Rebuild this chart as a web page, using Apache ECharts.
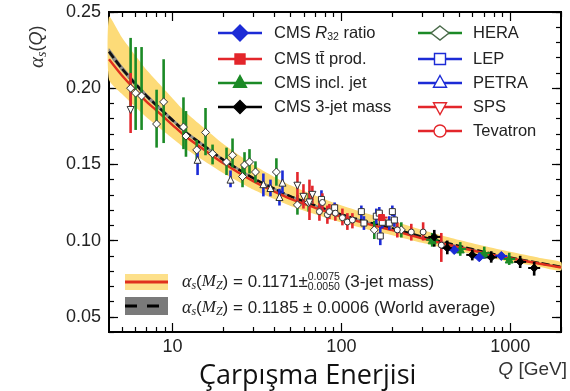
<!DOCTYPE html>
<html><head><meta charset="utf-8">
<script src="https://cdn.jsdelivr.net/npm/echarts@6/dist/echarts.min.js"></script>
<style>html,body{margin:0;padding:0;background:#fff}#c{width:570px;height:391px}</style>
</head><body><div id="c"></div>
<script>
// ---------------- data ----------------
const curveQ   = [4.2,5,6,7,8,10,12,15,20,30,40,50,70,91.19,120,150,200,300,400,500,700,1000,1500,2000];
const worldAvg = [0.224,0.213,0.203,0.195,0.189,0.179,0.171,0.163,0.153,0.141,0.134,0.129,0.123,0.1185,0.1145,0.1115,0.108,0.1025,0.099,0.0964,0.0925,0.0888,0.0852,0.0828];
const worldHigh= [0.2262,0.2150,0.2048,0.1967,0.1905,0.1804,0.1723,0.1642,0.1540,0.1419,0.1348,0.1297,0.1237,0.1191,0.1151,0.1120,0.1085,0.1030,0.0994,0.0968,0.0929,0.0891,0.0855,0.0831];
const worldLow = [0.2219,0.2111,0.2012,0.1934,0.1875,0.1776,0.1698,0.1619,0.1520,0.1402,0.1332,0.1283,0.1224,0.1179,0.1139,0.1110,0.1075,0.1021,0.0986,0.0960,0.0921,0.0885,0.0849,0.0825];
const fit3jet  = [0.219,0.2085,0.1989,0.1912,0.1855,0.1758,0.1681,0.1604,0.1507,0.1390,0.1322,0.1273,0.1215,0.1171,0.1132,0.1103,0.1068,0.1014,0.0980,0.0955,0.0918,0.0884,0.0848,0.0823];
const bandHigh = [0.2469,0.2335,0.2216,0.2121,0.2050,0.1933,0.1840,0.1748,0.1633,0.1497,0.1418,0.1363,0.1296,0.1246,0.1202,0.1169,0.1130,0.1070,0.1032,0.1004,0.0964,0.0926,0.0886,0.0859];
const bandLow  = [0.2056,0.1963,0.1878,0.1809,0.1757,0.1670,0.1601,0.1530,0.1442,0.1335,0.1272,0.1227,0.1172,0.1131,0.1095,0.1067,0.1035,0.0985,0.0952,0.0928,0.0894,0.0861,0.0827,0.0803];

// points: [Q, alpha_s, low, high]
const heraPts = [[5.64,0.200,0.186,0.233],[6.04,0.1968,0.1726,0.227],[6.55,0.1949,0.1726,0.227],[8.04,0.1765,0.161,0.199],[8.85,0.191,0.164,0.219],[11.6,0.1745,0.160,0.194],[12.0,0.1686,0.155,0.185],[13.9,0.1595,0.152,0.166],[15.67,0.171,0.156,0.187],[17.25,0.157,0.150,0.163],[20.87,0.1516,0.143,0.161],[22.65,0.156,0.148,0.167],[25.96,0.142,0.135,0.150],[26.67,0.1496,0.141,0.158],[28.55,0.1516,0.144,0.160],[30.97,0.145,0.138,0.152],[41.2,0.145,0.136,0.154],[54.9,0.1234,0.117,0.130],[64,0.125,0.119,0.131],[156.6,0.107,0.101,0.113],[226.5,0.107,0.102,0.112]];
const petraPts = [[14.06,0.153,0.143,0.160],[22.04,0.140,0.135,0.146],[34.5,0.137,0.129,0.144],[38.0,0.1345,0.129,0.140],[42.96,0.1286,0.123,0.134],[44.77,0.138,0.131,0.146]];
const lepPts = [[76.2,0.127,0.121,0.133],[91.2,0.1215,0.118,0.125],[131.3,0.119,0.114,0.123],[136,0.1115,0.107,0.116],[161,0.116,0.111,0.121],[167.7,0.118,0.114,0.122],[170,0.103,0.097,0.109],[174.8,0.112,0.108,0.117],[192.2,0.1115,0.107,0.116],[200.4,0.119,0.116,0.123],[206,0.1135,0.109,0.118]];
const spsPts = [[5.64,0.1857,0.1706,0.210],[54.9,0.136,0.122,0.145],[59.6,0.1287,0.121,0.137],[64.7,0.125,0.1135,0.140],[67.3,0.130,0.124,0.136]];
const tevatronPts = [[74.1,0.119,0.113,0.125],[77.2,0.125,0.119,0.131],[82.6,0.117,0.111,0.123],[84.9,0.119,0.114,0.124],[92.1,0.118,0.113,0.124],[101.4,0.115,0.110,0.121],[108.5,0.1122,0.107,0.118],[116.2,0.1135,0.108,0.118],[214.4,0.107,0.102,0.112],[259.5,0.1056,0.100,0.111],[305,0.1056,0.100,0.112],[390.8,0.097,0.086,0.105]];
const cmsTtPts = [[173,0.1151,0.111,0.119]];
const cms3jetPts = [[355,0.1024,0.096,0.107],[424,0.0951,0.091,0.100],[596,0.0906,0.087,0.094],[772,0.089,0.0855,0.093],[1146,0.086,0.082,0.090],[1387,0.082,0.077,0.086]];
const cmsR32Pts = [[466,0.0938,0.0915,0.0965],[656,0.0890,0.0870,0.0915],[886,0.0899,0.0880,0.0920]];
const cmsInclPts = [[345,0.1005,0.096,0.105],[506,0.0945,0.090,0.099],[702,0.0918,0.088,0.096],[987,0.0879,0.084,0.092]];

const xTickLabels = [10,100,1000];
const xMinorTicks = [5,6,7,8,9,20,30,40,50,60,70,80,90,200,300,400,500,600,700,800,900,2000];
const yTickLabels = [0.05,0.10,0.15,0.20,0.25];
const yMinorTicks = [0.04,0.05,0.06,0.07,0.08,0.09,0.10,0.11,0.12,0.13,0.14,0.15,0.16,0.17,0.18,0.19,0.20,0.21,0.22,0.23,0.24,0.25];

// ---------------- styling ----------------
const FONT = '"Liberation Sans", Arial, sans-serif';
const SERIF = '"Liberation Serif", "DejaVu Serif", serif';
const GREEN = '#1b8a26', BLUE = '#1c2bd6', RED = '#e3262b', BLACK = '#000';
const xMin = 4.2, xMax = 2000, yMin = 0.04, yMax = 0.25;

function xAx(pos, major, labels) {
  return {type:'log', logBase:10, min:xMin, max:xMax, position:pos, gridIndex:0,
    axisLine:{show:true, lineStyle:{color:'#000', width:2}},
    axisTick:{show:true, inside:true, length: major?9:5, customValues: major?xTickLabels:xMinorTicks, lineStyle:{color:'#000', width:1.2}},
    axisLabel:{show:labels, customValues:xTickLabels, margin:6, fontSize:18, fontFamily:FONT, color:'#222', formatter:v=>String(Math.round(v))},
    splitLine:{show:false}, minorTick:{show:false}};
}
function yAx(pos, major, labels) {
  return {type:'value', min:yMin, max:yMax, position:pos, gridIndex:0,
    axisLine:{show:true, lineStyle:{color:'#000', width:2}},
    axisTick:{show:true, inside:true, length: major?9:5, customValues: major?yTickLabels:yMinorTicks, lineStyle:{color:'#000', width:1.2}},
    axisLabel:{show:labels, customValues:yTickLabels, margin:8, fontSize:18, fontFamily:FONT, color:'#222', formatter:v=>v.toFixed(2)},
    splitLine:{show:false}, minorTick:{show:false}};
}

function bandSeries(low, high, color, z) {
  return {type:'custom', z, silent:true, data:[[curveQ[0], low[0]]],
    renderItem(params, api) {
      const pts = [];
      for (let i = 0; i < curveQ.length; i++) pts.push(api.coord([curveQ[i], high[i]]));
      for (let i = curveQ.length - 1; i >= 0; i--) pts.push(api.coord([curveQ[i], low[i]]));
      return {type:'polygon', shape:{points:pts, smooth:0.2}, style:{fill:color}};
    }};
}
function errSeries(pts, color, hbar) {
  return {type:'custom', z:5, silent:true, data:pts,
    encode:{x:0, y:1},
    renderItem(params, api) {
      const q = api.value(0), v = api.value(1), lo = api.value(2), hi = api.value(3);
      const p1 = api.coord([q, lo]), p2 = api.coord([q, hi]), pc = api.coord([q, v]);
      const ch = [{type:'line', shape:{x1:p1[0], y1:p1[1], x2:p2[0], y2:p2[1]}, style:{stroke:color, lineWidth:2.6}}];
      if (hbar) ch.push({type:'line', shape:{x1:pc[0]-6, y1:pc[1], x2:pc[0]+6, y2:pc[1]}, style:{stroke:color, lineWidth:2}});
      return {type:'group', children:ch};
    }};
}
function markSeries(pts, symbol, size, fill, stroke, rotate) {
  return {type:'scatter', z:6, silent:true, data:pts.map(p => [p[0], p[1]]),
    symbol, symbolSize:size, symbolRotate:rotate||0,
    itemStyle:{color:fill, borderColor:stroke, borderWidth:1, opacity:1}};
}

// ---------------- graphic helpers ----------------
const ctx = document.createElement('canvas').getContext('2d');
function tw(t, f) { ctx.font = f; return ctx.measureText(t).width; }
function txt(x, y, text, font, fill, align) {
  return {type:'text', x, y, z:102, silent:true,
    style:{text, font, fill:fill||'#222', textAlign:align||'left', textVerticalAlign:'middle', align:align||'left', verticalAlign:'middle'}};
}
function layout(x, y, segs, fill) {
  const els = [];
  for (const s of segs) {
    if (s.stack) {
      els.push(txt(x, y - 5, s.stack[0], s.f, fill));
      els.push(txt(x, y + 5, s.stack[1], s.f, fill));
      x += Math.max(tw(s.stack[0], s.f), tw(s.stack[1], s.f));
    } else {
      els.push(txt(x, y + (s.dy||0), s.t, s.f, fill));
      x += tw(s.t, s.f);
    }
  }
  return els;
}
function lineEl(x1, y1, x2, y2, color, w, dash) {
  return {type:'line', z:100, silent:true, shape:{x1, y1, x2, y2}, style:{stroke:color, lineWidth:w, lineDash:dash||null}};
}
function polyEl(points, fill, stroke) {
  return {type:'polygon', z:101, silent:true, shape:{points}, style:{fill, stroke, lineWidth:1.4}};
}
function diamond(cx, cy, hw, hh) { return [[cx, cy-hh],[cx+hw, cy],[cx, cy+hh],[cx-hw, cy]]; }
function triUp(cx, cy, h) { return [[cx, cy-h],[cx+h, cy+h*0.8],[cx-h, cy+h*0.8]]; }
function triDown(cx, cy, h) { return [[cx-h, cy-h*0.8],[cx+h, cy-h*0.8],[cx, cy+h]]; }
function sq(cx, cy, h) { return [[cx-h, cy-h],[cx+h, cy-h],[cx+h, cy+h],[cx-h, cy+h]]; }

const LF = `16.5px ${FONT}`;
const graphics = [];
// top legend, column 1
const c1 = 240, c1t = 274;
const r = [33, 59, 83, 107, 131];
graphics.push(lineEl(c1-22, r[0], c1+22, r[0], BLUE, 2.5), polyEl(diamond(c1, r[0], 8, 8), BLUE, BLUE));
graphics.push(...layout(c1t, r[0], [{t:'CMS ', f:LF}, {t:'R', f:`italic 16.5px ${FONT}`}, {t:'32', f:`10.5px ${FONT}`, dy:4}, {t:' ratio', f:LF}]));
graphics.push(lineEl(c1-22, r[1], c1+22, r[1], RED, 2.5), polyEl(sq(c1, r[1], 5), RED, RED));
graphics.push(txt(c1t, r[1], 'CMS tt\u0304 prod.', LF));
graphics.push(lineEl(c1-22, r[2], c1+22, r[2], GREEN, 2.5), polyEl(triUp(c1, r[2]-1, 6.5), GREEN, GREEN));
graphics.push(txt(c1t, r[2], 'CMS incl. jet', LF));
graphics.push(lineEl(c1-22, r[3], c1+22, r[3], BLACK, 2.5), polyEl(diamond(c1, r[3], 6.5, 6.5), BLACK, BLACK));
graphics.push(txt(c1t, r[3], 'CMS 3-jet mass', LF));
// column 2
const c2 = 440, c2t = 473;
graphics.push(lineEl(c2-22, r[0], c2+22, r[0], GREEN, 2.5), polyEl(diamond(c2, r[0], 9, 7), '#fff', '#4a6a4a'));
graphics.push(txt(c2t, r[0], 'HERA', LF));
graphics.push(lineEl(c2-22, r[1], c2+22, r[1], BLUE, 2.5), polyEl(sq(c2, r[1], 5.5), '#fff', BLUE));
graphics.push(txt(c2t, r[1], 'LEP', LF));
graphics.push(lineEl(c2-22, r[2], c2+22, r[2], BLUE, 2.5), polyEl(triUp(c2, r[2]-1, 6.5), '#fff', BLUE));
graphics.push(txt(c2t, r[2], 'PETRA', LF));
graphics.push(lineEl(c2-22, r[3], c2+22, r[3], RED, 2.5), polyEl(triDown(c2, r[3]+1, 6.5), '#fff', RED));
graphics.push(txt(c2t, r[3], 'SPS', LF));
graphics.push(lineEl(c2-22, r[4], c2+22, r[4], RED, 2.5), {type:'circle', z:101, silent:true, shape:{cx:c2, cy:r[4], r:6}, style:{fill:'#fff', stroke:RED, lineWidth:1.4}});
graphics.push(txt(c2t, r[4], 'Tevatron', LF));

// bottom-left legend
const BF = `17px ${FONT}`;
graphics.push({type:'rect', z:100, silent:true, shape:{x:125, y:274, width:43, height:16}, style:{fill:'#fde08a'}});
graphics.push(lineEl(125, 282, 168, 282, '#e0301e', 3));
graphics.push({type:'rect', z:100, silent:true, shape:{x:125, y:297, width:43, height:18}, style:{fill:'#7a7a7a'}});
graphics.push(lineEl(125, 306, 137, 306, '#000', 3), lineEl(147, 306, 159, 306, '#000', 3));
const aS = [{t:'α', f:`italic 18px ${SERIF}`}, {t:'s', f:`italic 12px ${SERIF}`, dy:4}, {t:'(', f:BF}, {t:'M', f:`italic 17px ${SERIF}`}, {t:'Z', f:`italic 12px ${SERIF}`, dy:4}];
graphics.push(...layout(182, 282, [...aS, {t:') = 0.1171±', f:BF}, {stack:['0.0075','0.0050'], f:`10.5px ${FONT}`}, {t:' (3-jet mass)', f:BF}]));
graphics.push(...layout(182, 308, [...aS, {t:') = 0.1185 ± 0.0006 (World average)', f:BF}]));

// y axis name, rotated
const yName = layout(0, 0, [{t:'α', f:`italic 21px ${SERIF}`}, {t:'s', f:`italic 14px ${SERIF}`, dy:5}, {t:'(', f:`18px ${FONT}`}, {t:'Q', f:`italic 18px ${FONT}`}, {t:')', f:`18px ${FONT}`}], '#333');
graphics.push({type:'group', x:37, y:68, rotation:Math.PI/2, z:102, children:yName});

// x axis name
const qf = `19px ${FONT}`;
const qw = tw('Q', `italic ${qf}`) + tw(' [GeV]', qf);
graphics.push(...layout(567 - qw, 370, [{t:'Q', f:`italic ${qf}`}, {t:' [GeV]', f:qf}], '#333'));

// Turkish caption
graphics.push(txt(199, 376, 'Çarpışma Enerjisi', `27px "Open Sans", sans-serif`, '#111'));

const chart = echarts.init(document.getElementById('c'));
chart.setOption({
  animation:false,
  backgroundColor:'#fff',
  grid:{left:109, top:12, right:9, bottom:59, containLabel:false},
  xAxis:[xAx('bottom', true, true), xAx('bottom', false, false), xAx('top', true, false), xAx('top', false, false)],
  yAxis:[yAx('left', true, true), yAx('left', false, false), yAx('right', true, false), yAx('right', false, false)],
  series:[
    bandSeries(bandLow, bandHigh, '#fddb78', 1),
    bandSeries(worldLow, worldHigh, '#8c8c8c', 2),
    {type:'line', z:3, silent:true, data:curveQ.map((q,i)=>[q, worldAvg[i]]), showSymbol:false, smooth:0.3,
      lineStyle:{color:'#111', width:2.6, type:[8,3]}},
    {type:'line', z:4, silent:true, data:curveQ.map((q,i)=>[q, fit3jet[i]]), showSymbol:false, smooth:0.3,
      lineStyle:{color:'#e0301e', width:2.4}},
    errSeries(heraPts, GREEN), errSeries(petraPts, BLUE), errSeries(lepPts, BLUE),
    errSeries(spsPts, RED), errSeries(tevatronPts, RED),
    errSeries(cmsTtPts, RED, true), errSeries(cmsInclPts, GREEN, true), errSeries(cmsR32Pts, BLUE, true), errSeries(cms3jetPts, BLACK, true),
    markSeries(heraPts, 'diamond', [8,8], '#fff', '#333'),
    markSeries(petraPts, 'triangle', 7, '#fff', '#333'),
    markSeries(lepPts, 'rect', 6, '#fff', '#333'),
    markSeries(spsPts, 'triangle', 7, '#fff', '#333', 180),
    markSeries(tevatronPts, 'circle', 6, '#fff', '#333'),
    markSeries(cmsTtPts, 'rect', 6, RED, RED),
    markSeries(cmsInclPts, 'triangle', 8, GREEN, GREEN),
    markSeries(cmsR32Pts, 'diamond', 9, BLUE, BLUE),
    markSeries(cms3jetPts, 'diamond', 8, BLACK, BLACK)
  ],
  graphic:{elements:graphics}
});
</script></body></html>
